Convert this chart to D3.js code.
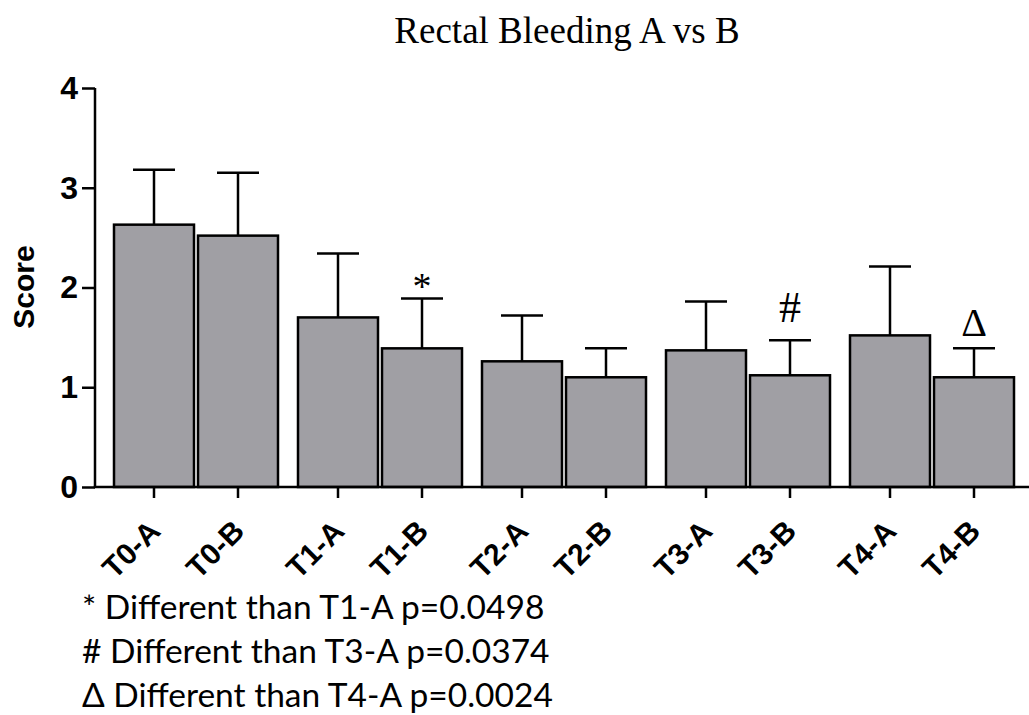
<!DOCTYPE html>
<html>
<head>
<meta charset="utf-8">
<script src="https://cdn.jsdelivr.net/npm/d3@7"></script>
<style>
  html, body { margin: 0; padding: 0; background: #fff; }
  svg { display: block; }
</style>
</head>
<body>
<svg id="chart" width="1029" height="715"></svg>
<script>
// ---- data ----
const groups = ["T0", "T1", "T2", "T3", "T4"];
const arms = ["A", "B"];
const categories = ["T0-A", "T0-B", "T1-A", "T1-B", "T2-A", "T2-B", "T3-A", "T3-B", "T4-A", "T4-B"];
const means = [2.63, 2.52, 1.70, 1.39, 1.26, 1.10, 1.37, 1.12, 1.52, 1.10];
const sds   = [0.55, 0.63, 0.64, 0.50, 0.46, 0.29, 0.49, 0.35, 0.69, 0.29];
const yTicks = [0, 1, 2, 3, 4];
const markers = [
  { category: "T1-B", symbol: "*" },
  { category: "T3-B", symbol: "#" },
  { category: "T4-B", symbol: "\u0394" }
];
const footnotes = [
  "* Different than T1-A p=0.0498",
  "# Different than T3-A p=0.0374",
  "\u0394 Different than T4-A p=0.0024"
];
const title = "Rectal Bleeding A vs B";
const yLabel = "Score";

// ---- layout ----
const svg = d3.select("#chart");
const axisX = 95, yTop = 88, yBottom = 487;
const sans = "'Liberation Sans', Arial, sans-serif";
const serif = "'Liberation Serif', 'Times New Roman', serif";

const y = d3.scaleLinear().domain([0, 4]).range([yBottom, yTop]);
const xGroup = d3.scaleBand().domain(groups).range([114, 1014]).paddingInner(20 / 184).paddingOuter(0);
const xArm = d3.scaleBand().domain(arms).range([0, xGroup.bandwidth()]).paddingInner(4 / 84).paddingOuter(0);

const rows = categories.map((c, i) => {
  const [g, a] = c.split("-");
  return { cat: c, group: g, arm: a, mean: means[i], sd: sds[i] };
});
const xLeft = d => xGroup(d.group) + xArm(d.arm);
const xMid = d => xLeft(d) + xArm.bandwidth() / 2;

// title
svg.append("text")
  .attr("x", 567).attr("y", 43)
  .attr("text-anchor", "middle")
  .style("font-family", serif).style("font-size", "37px")
  .text(title);

// bars
svg.append("g").selectAll("rect").data(rows).join("rect")
  .attr("x", xLeft)
  .attr("y", d => y(d.mean))
  .attr("width", xArm.bandwidth())
  .attr("height", d => y(0) - y(d.mean))
  .attr("fill", "#a09fa4")
  .attr("stroke", "#000").attr("stroke-width", 2.5);

// error bars
const eb = svg.append("g").attr("stroke", "#000").attr("stroke-width", 2.5);
eb.selectAll("line.v").data(rows).join("line").attr("class", "v")
  .attr("x1", xMid).attr("x2", xMid)
  .attr("y1", d => y(d.mean)).attr("y2", d => y(d.mean + d.sd));
eb.selectAll("line.c").data(rows).join("line").attr("class", "c")
  .attr("x1", d => xMid(d) - 21).attr("x2", d => xMid(d) + 21)
  .attr("y1", d => y(d.mean + d.sd)).attr("y2", d => y(d.mean + d.sd));

// significance markers
const markerStyle = { "*": { size: 38, dy: 1 }, "#": { size: 44, dy: -18 }, "\u0394": { size: 40, dy: -12 } };
svg.append("g").selectAll("text").data(markers).join("text")
  .attr("x", m => xMid(rows.find(r => r.cat === m.category)))
  .attr("y", m => { const r = rows.find(r => r.cat === m.category); return y(r.mean + r.sd) + markerStyle[m.symbol].dy; })
  .attr("text-anchor", "middle")
  .style("font-family", serif)
  .style("font-size", m => markerStyle[m.symbol].size + "px")
  .text(m => m.symbol);

// y axis
const yAxis = d3.axisLeft(y).tickValues(yTicks).tickFormat(d3.format("d")).tickSize(13).tickPadding(4);
const gy = svg.append("g").attr("transform", `translate(${axisX},0)`).call(yAxis);
gy.select(".domain").attr("d", `M0,${yTop}V${yBottom}`).attr("stroke-width", 2.5);
gy.selectAll(".tick line").attr("stroke-width", 2.5);
gy.selectAll(".tick text")
  .style("font-family", sans).style("font-weight", "bold").style("font-size", "32px")
  .attr("fill", "#000");

// x axis
const xAxisG = svg.append("g");
xAxisG.append("line")
  .attr("x1", axisX - 1.25).attr("x2", 1029)
  .attr("y1", yBottom).attr("y2", yBottom)
  .attr("stroke", "#000").attr("stroke-width", 2.5);
xAxisG.selectAll("line.tick").data(rows).join("line").attr("class", "tick")
  .attr("x1", xMid).attr("x2", xMid)
  .attr("y1", yBottom).attr("y2", yBottom + 11)
  .attr("stroke", "#000").attr("stroke-width", 2.5);
xAxisG.selectAll("text").data(rows).join("text")
  .attr("transform", d => `translate(${xMid(d) + 8},${yBottom + 46}) rotate(-45)`)
  .attr("text-anchor", "end")
  .style("font-family", sans).style("font-weight", "bold").style("font-size", "30px")
  .text(d => d.cat);

// y label
svg.append("text")
  .attr("transform", `translate(34,287) rotate(-90)`)
  .attr("text-anchor", "middle")
  .style("font-family", sans).style("font-weight", "bold").style("font-size", "30px")
  .text(yLabel);

// footnotes
svg.append("g").selectAll("text").data(footnotes).join("text")
  .attr("x", 82)
  .attr("y", (d, i) => 619 + i * 44)
  .style("font-family", "Lato, 'Open Sans', sans-serif").style("font-size", "33.5px")
  .text(d => d);
</script>
</body>
</html>
